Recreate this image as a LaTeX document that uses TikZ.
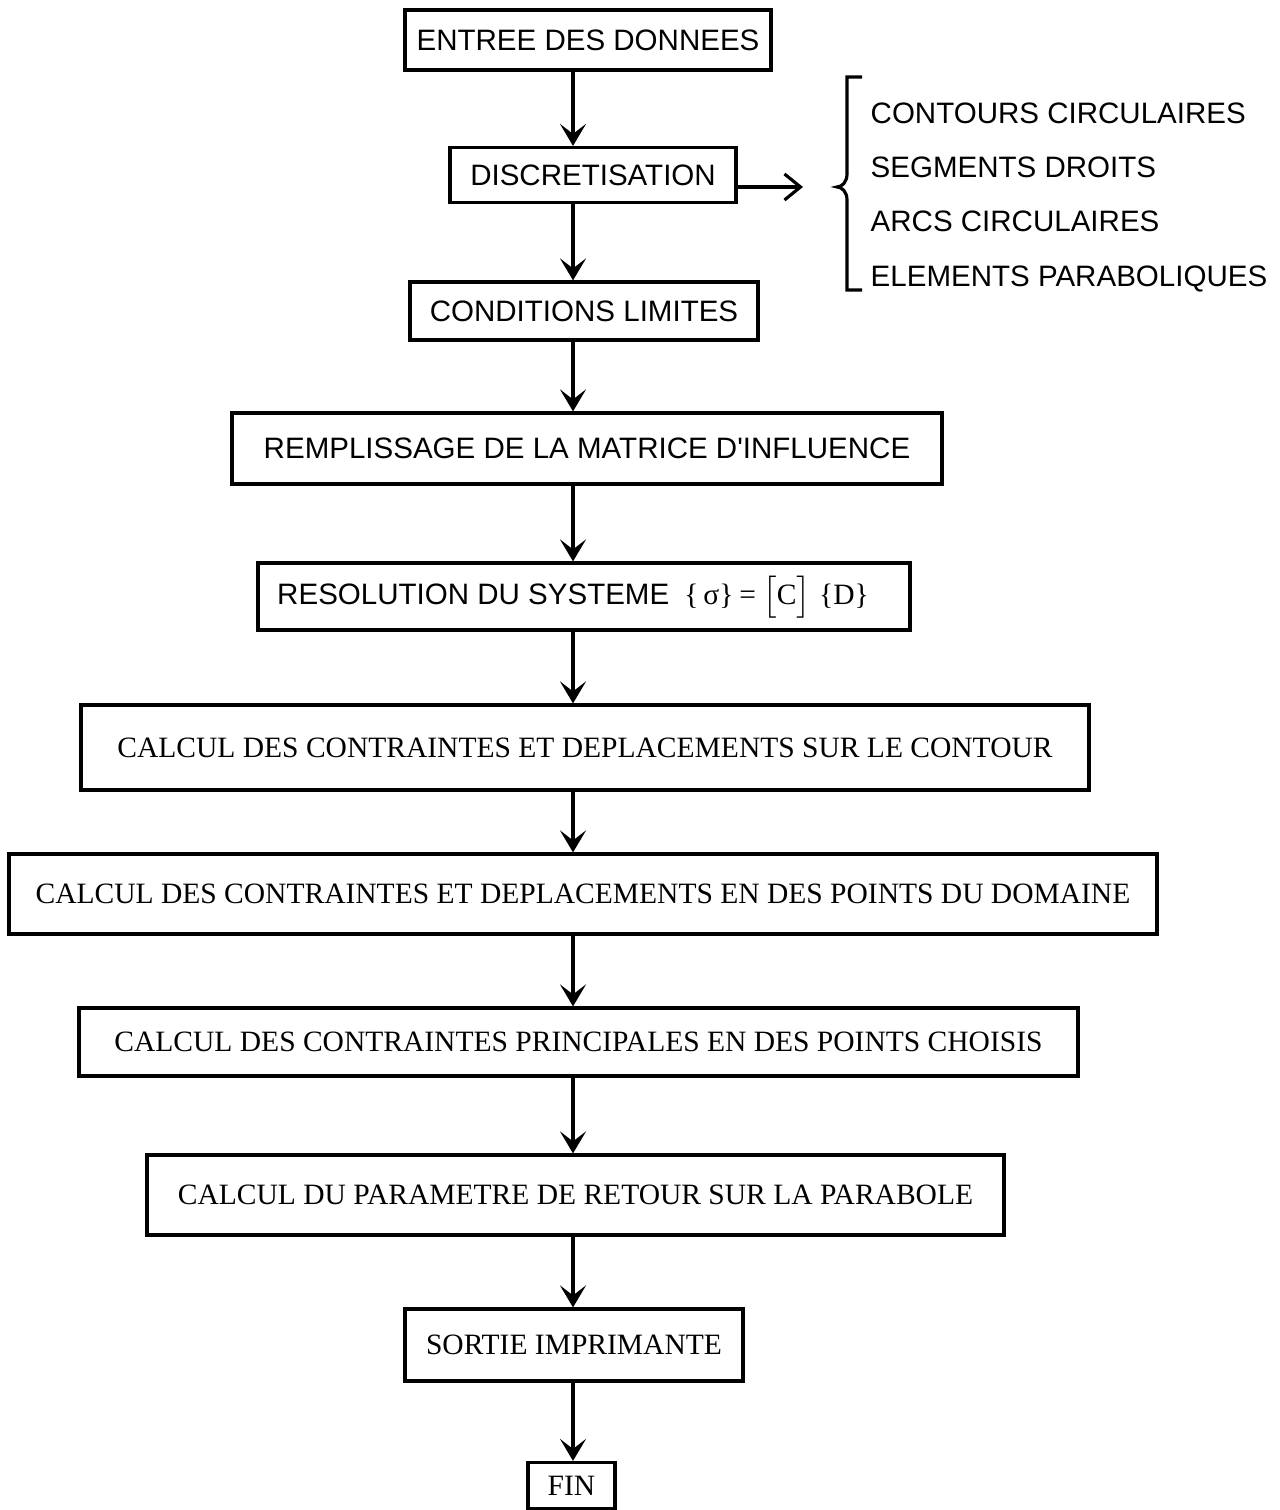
\documentclass[tikz,border=0pt]{standalone}
\usepackage{fontspec}
\setmainfont{Liberation Serif}
\setsansfont{Liberation Sans}
\usepackage{tikz}
\usetikzlibrary{positioning, arrows.meta}

\begin{document}
\begin{tikzpicture}[
    box/.style={draw, line width=0.9pt, inner sep=0pt},
    sansbox/.style={box, font=\sffamily\fontsize{8.4}{10}\selectfont},
    serifbox/.style={box, font=\rmfamily\fontsize{8.4}{10}\selectfont},
    listitem/.style={anchor=west, inner sep=0pt, text depth=0pt, font=\sffamily\fontsize{8.4}{10}\selectfont},
    flow/.style={-{Stealth[length=2.2mm, width=2.6mm, inset=1mm]}, line width=1pt}
]
    % Frame
    \useasboundingbox (0, 0) rectangle (12.8, 15.1);

    % Input and mesh
    \node[sansbox, minimum width=3.66cm, minimum height=0.60cm] (entree) at (5.88, 14.70) {ENTREE DES DONNEES};
    \node[sansbox, minimum width=2.86cm, minimum height=0.55cm] (discret) at (5.93, 13.35) {DISCRETISATION};
    \node[sansbox, minimum width=3.48cm, minimum height=0.58cm] (limites) at (5.84, 11.99) {CONDITIONS LIMITES};

    % Element types
    \node[listitem] (contours) at (8.70, 13.97) {CONTOURS CIRCULAIRES};
    \node[listitem] (segments) at (8.70, 13.43) {SEGMENTS DROITS};
    \node[listitem] (arcs) at (8.70, 12.89) {ARCS CIRCULAIRES};
    \node[listitem] (paraboliques) at (8.70, 12.34) {ELEMENTS PARABOLIQUES};

    % Brace
    \coordinate (brnub) at (8.37, 13.23);
    \coordinate (brtip) at (8.03, 13.23);
    \draw[line width=0.9pt] (8.62, 14.33) -- (8.47, 14.33) -- (8.47, 13.36)
        .. controls (8.47, 13.28) and (8.42, 13.23) .. (brnub)
        .. controls (8.42, 13.23) and (8.47, 13.18) .. (8.47, 13.10)
        -- (8.47, 12.20) -- (8.62, 12.20);
    \draw[line width=0.9pt, -{Straight Barb[length=1.6mm, width=2.6mm]}] (discret.east |- brtip) -- (brtip);

    % Solving
    \node[sansbox, minimum width=7.10cm, minimum height=0.71cm] (matrice) at (5.87, 10.615) {REMPLISSAGE DE LA MATRICE D\textquotesingle INFLUENCE};
    \node[sansbox, minimum width=6.52cm, minimum height=0.67cm] (systeme) at (5.84, 9.135)
        {RESOLUTION DU SYSTEME\hspace{0.15cm}{\rmfamily\{\,σ\}\hspace{0.06cm}=\hspace{0.06cm}$\big[$C$\big]$\hspace{0.08cm}\{D\}}\kern0.22cm};

    % Post-processing
    \node[serifbox, minimum width=10.08cm, minimum height=0.85cm] (contour) at (5.85, 7.625) {CALCUL DES CONTRAINTES ET DEPLACEMENTS SUR LE CONTOUR};
    \node[serifbox, minimum width=11.48cm, minimum height=0.80cm] (domaine) at (5.83, 6.16) {CALCUL DES CONTRAINTES ET DEPLACEMENTS EN DES POINTS DU DOMAINE};
    \node[serifbox, minimum width=9.99cm, minimum height=0.68cm] (principales) at (5.785, 4.68) {CALCUL DES CONTRAINTES PRINCIPALES EN DES POINTS CHOISIS};
    \node[serifbox, minimum width=8.57cm, minimum height=0.80cm] (parabole) at (5.755, 3.15) {CALCUL DU PARAMETRE DE RETOUR SUR LA PARABOLE};
    \node[serifbox, minimum width=3.38cm, minimum height=0.72cm] (sortie) at (5.74, 1.65) {SORTIE IMPRIMANTE};
    \node[serifbox, minimum width=0.87cm, minimum height=0.46cm] (fin) at (5.715, 0.245) {FIN};

    % Flow arrows
    \coordinate (spine) at (5.73, 0);
    \foreach \a/\b in {entree/discret, discret/limites, limites/matrice, matrice/systeme,
        systeme/contour, contour/domaine, domaine/principales, principales/parabole,
        parabole/sortie, sortie/fin}
        \draw[flow] (\a.south -| spine) -- (\b.north -| spine);
\end{tikzpicture}
\end{document}
